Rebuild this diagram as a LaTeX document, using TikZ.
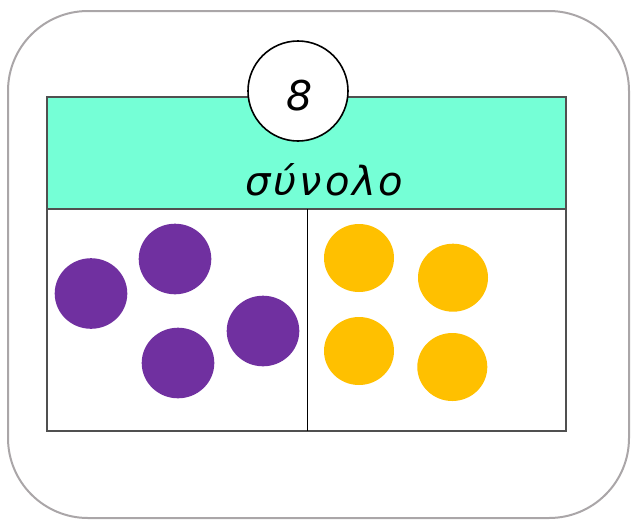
\documentclass[tikz,border=0pt]{standalone}
\usepackage{fontspec}
\setmainfont{DejaVu Sans}
\definecolor{teal1}{RGB}{117,255,214}
\definecolor{purp}{RGB}{112,48,160}
\definecolor{yell}{RGB}{255,192,0}
\definecolor{outerg}{RGB}{170,166,168}
\definecolor{innerg}{RGB}{80,80,80}
\begin{document}
\begin{tikzpicture}[x=1pt,y=-1pt,
  box/.style={draw=innerg,line width=1.5pt}]
\useasboundingbox (0,0) rectangle (631,520);
\draw[outerg,line width=2pt,rounded corners=80pt] (8,11) rectangle (629,518);
\path[box,fill=teal1] (47,97) rectangle (566,209);
\path[box,fill=white] (47,209) rectangle (566,431);
\draw[draw=black,line width=1pt] (307,209) -- (307,431);
\node[circle,draw=black,line width=1.6pt,fill=white,minimum size=100pt,inner sep=0pt] (num) at (298,91) {};
\node[anchor=base,inner sep=0pt] (numtxt) at (299.5,110) {\fontsize{41}{46}\selectfont\itshape 8};
\node[anchor=base,inner sep=0pt] (lbl) at (324.5,195) {\fontsize{40}{46}\selectfont\itshape\addfontfeatures{LetterSpace=7}σύνολο};
\fill[purp] (91,293.5) ellipse [x radius=36.3,y radius=35.3];
\fill[purp] (175,259) ellipse [x radius=36.3,y radius=35.3];
\fill[purp] (178,363) ellipse [x radius=36.3,y radius=35.3];
\fill[purp] (263,331) ellipse [x radius=36.3,y radius=35.3];
\fill[yell] (359,258) ellipse [x radius=35,y radius=34];
\fill[yell] (453,277.7) ellipse [x radius=35,y radius=34];
\fill[yell] (359,351) ellipse [x radius=35,y radius=34];
\fill[yell] (452.3,367) ellipse [x radius=35,y radius=34];
\end{tikzpicture}
\end{document}
